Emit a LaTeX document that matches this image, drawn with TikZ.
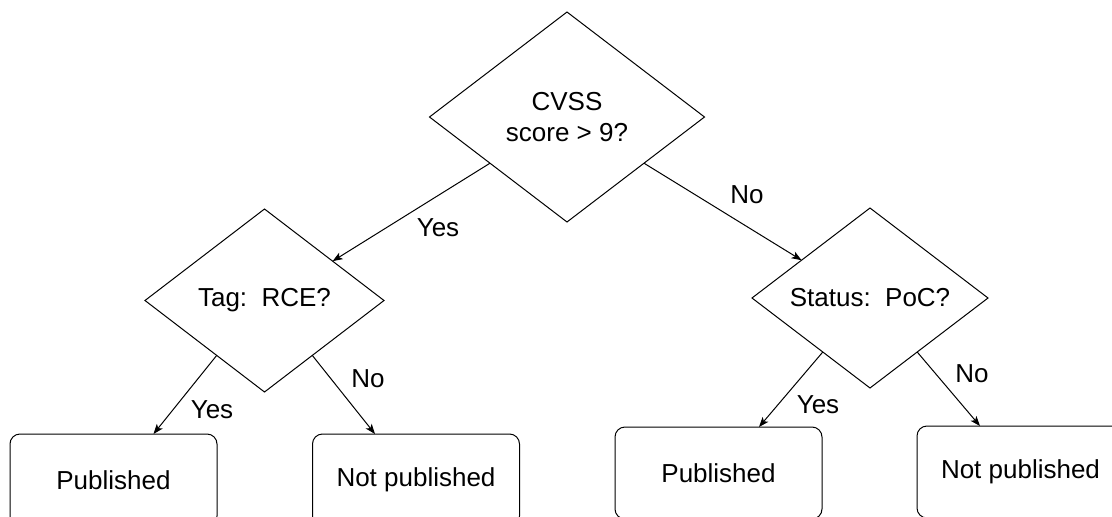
\documentclass[tikz,border=0pt]{standalone}
\usepackage{fontspec}
\setmainfont{Liberation Sans}
\usetikzlibrary{shapes.geometric,arrows.meta,calc}
\begin{document}
\begin{tikzpicture}[x=1pt,y=-1pt,
  every node/.style={font=\fontsize{26}{31}\selectfont, inner sep=0pt, outer sep=0pt},
  decision/.style={draw, diamond, line width=1pt, align=center},
  outcome/.style={draw, rectangle, rounded corners=10pt, minimum width=207pt,
                  minimum height=92pt, line width=1pt},
  flow/.style={draw, line width=1pt, -{Stealth[length=10pt,width=7.5pt,inset=2.5pt]}},
  answer/.style={}]
\useasboundingbox (0,0) rectangle (1112,517);
\clip (0,0) rectangle (1112,517);

% decisions
\node[decision, minimum width=275pt, minimum height=210pt] (cvss) at (567,117) {CVSS\\score > 9?};
\node[decision, minimum width=239pt, minimum height=183pt] (tag) at (264.5,300.5) {Tag:\ \ RCE?};
\node[decision, minimum width=236pt, minimum height=180pt] (status) at (870,298) {Status:\ \ PoC?};

% outcomes
\node[outcome] (pub1) at (113.5,480) {Published};
\node[outcome] (nopub1) at (416,480) {Not published};
\node[outcome] (pub2) at (718.5,473) {Published};
\node[outcome] (nopub2) at (1020.5,472) {Not published};

% connectors
\draw[flow] ($(cvss.west)!0.44!(cvss.south)$) -- ($(tag.north)!0.57!(tag.east)$);
\draw[flow] ($(cvss.east)!0.44!(cvss.south)$) -- ($(status.west)!0.42!(status.north)$);
\draw[flow] ($(tag.west)!0.6!(tag.south)$) -- ($(pub1.north)+(40,0)$);
\draw[flow] ($(tag.east)!0.6!(tag.south)$) -- ($(nopub1.north)+(-41,0)$);
\draw[flow] ($(status.west)!0.6!(status.south)$) -- ($(pub2.north)+(40.5,0)$);
\draw[flow] ($(status.east)!0.6!(status.south)$) -- ($(nopub2.north)+(-40.5,0)$);

% answers
\node[answer] (y1) at (438,228) {Yes};
\node[answer] (n1) at (747,195) {No};
\node[answer] (y2) at (212,410) {Yes};
\node[answer] (n2) at (368,379) {No};
\node[answer] (y3) at (818,405) {Yes};
\node[answer] (n3) at (972,374) {No};
\end{tikzpicture}
\end{document}
